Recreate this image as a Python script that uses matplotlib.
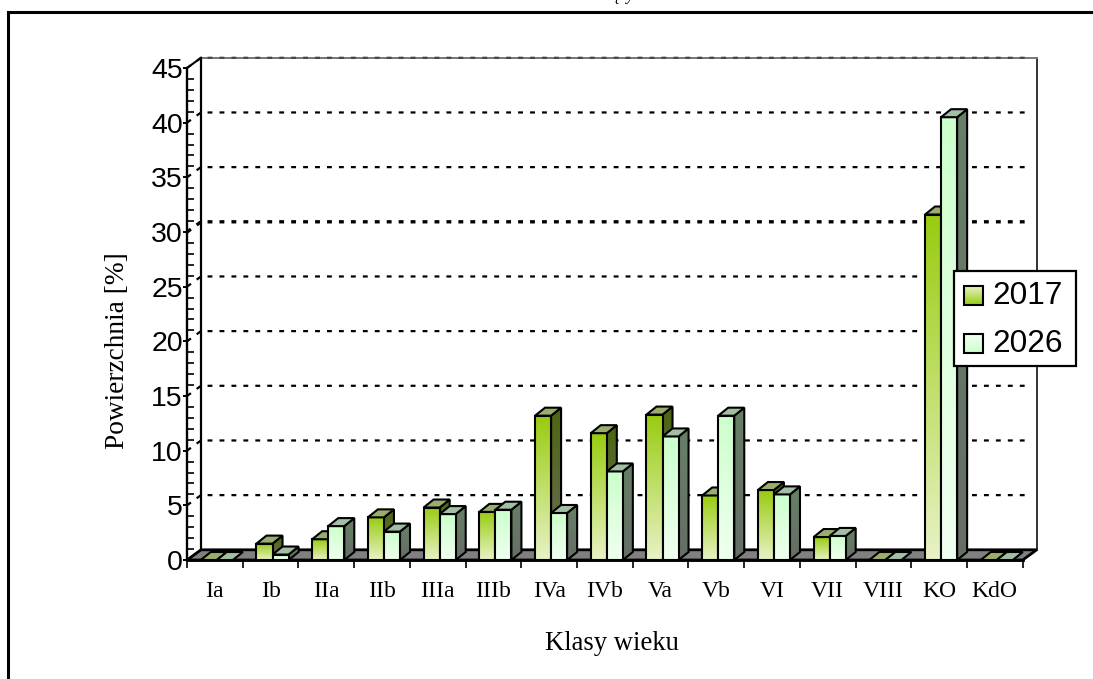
import numpy as np
import matplotlib
matplotlib.use('Agg')
import matplotlib.pyplot as plt
from matplotlib.colors import LinearSegmentedColormap
from matplotlib.patches import Polygon, Rectangle

W, H = 1093, 679

classes = ['Ia', 'Ib', 'IIa', 'IIb', 'IIIa', 'IIIb', 'IVa', 'IVb', 'Va', 'Vb', 'VI', 'VII', 'VIII', 'KO', 'KdO']
y2017 = [0, 1.5, 1.9, 3.9, 4.8, 4.4, 13.2, 11.6, 13.3, 5.9, 6.4, 2.1, 0, 31.6, 0]
y2026 = [0, 0.5, 3.1, 2.6, 4.2, 4.6, 4.3, 8.1, 11.3, 13.2, 6.0, 2.2, 0, 40.5, 0]
y_ticks = [0, 5, 10, 15, 20, 25, 30, 35, 40, 45]

# depth of the back wall and of the bars, in axis units
WALL_DX = 14 / 55.7
WALL_DY = 10.2 / 10.93
BAR_DX = 10 / 55.7
BAR_DY = 8 / 10.93
BAR_W = 0.288
BAR_OFF = 0.247

fig = plt.figure(figsize=(W / 100, H / 100), dpi=100)
bg = fig.add_axes([0, 0, 1, 1])
bg.set_xlim(0, W)
bg.set_ylim(H, 0)
bg.axis('off')
# frame is open on the right and at the bottom
bg.plot([8, 8, W], [H, 11.5, 11.5], color='black', lw=2.2, solid_joinstyle='miter')
# only the lowest pixels of this caption are on the sheet
bg.text(372, 0.5, 'Rozkład klas wieku w okresie obowiązywania lat 2017-2026', family='Liberation Serif',
        style='italic', fontsize=12, ha='left', va='baseline', color='black')

ax = fig.add_axes([187 / W, 1 - 560 / H, (1022.7 - 187) / W, (560 - 68) / H])
ax.set_xlim(0, len(classes))
ax.set_ylim(0, 45)
ax.patch.set_visible(False)
for s in ax.spines.values():
    s.set_visible(False)

n = len(classes)

# walls
ax.plot([WALL_DX, WALL_DX], [WALL_DY, 45 + WALL_DY], color='black', lw=1.6, clip_on=False, zorder=1)
ax.plot([n + WALL_DX, n + WALL_DX], [WALL_DY, 45 + WALL_DY], color='#333333', lw=1.4, clip_on=False, zorder=1)
ax.plot([WALL_DX, n + WALL_DX], [45 + WALL_DY, 45 + WALL_DY], color='#777777', lw=1.4, clip_on=False, zorder=1)
ax.add_patch(Polygon([(0, 0), (n, 0), (n + WALL_DX, WALL_DY), (WALL_DX, WALL_DY)], closed=True,
                     fc='#808080', ec='black', lw=2, clip_on=False, zorder=2))

# grid runs along the side wall too, the dashes leave one dot there
for v in y_ticks[1:]:
    lw = 2.4 if v == 30 else 1.6
    dash = 3.5 / lw
    gap = 5.1 / lw
    col = '#444444' if v == 45 else 'black'
    ax.plot([0, WALL_DX, n + WALL_DX - 0.12], [v, v + WALL_DY, v + WALL_DY], color=col, lw=lw,
            dashes=(dash, gap), clip_on=False, zorder=1.5)
ax.plot([0, WALL_DX], [45, 45 + WALL_DY], color='black', lw=1.5, clip_on=False, zorder=1.5)

def grad(top, bottom):
    return LinearSegmentedColormap.from_list('g', [bottom, top])

front_2017 = grad('#99cc11', '#e8f2c4')
side_2017 = grad('#4d6611', '#6b6e5a')
front_2026 = grad('#ccffcc', '#f0fff0')
side_2026 = grad('#668066', '#666e66')
ramp = np.linspace(1, 0, 64).reshape(-1, 1)

def bar3d(x0, val, front_cm, side_cm, top_col, z):
    x1 = x0 + BAR_W
    if val > 0:
        im = ax.imshow(ramp, cmap=side_cm, extent=(x1, x1 + BAR_DX, 0, val + BAR_DY), aspect='auto', zorder=z)
        side = Polygon([(x1, 0), (x1 + BAR_DX, BAR_DY), (x1 + BAR_DX, val + BAR_DY), (x1, val)], closed=True,
                       fc='none', ec='black', lw=1.5, zorder=z + 0.1, clip_on=False)
        ax.add_patch(side)
        im.set_clip_path(side)
        ax.imshow(ramp, cmap=front_cm, extent=(x0, x1, 0, val), aspect='auto', zorder=z + 0.2)
        ax.add_patch(Rectangle((x0, 0), BAR_W, val, fc='none', ec='black', lw=1.5, zorder=z + 0.3, clip_on=False))
    ax.add_patch(Polygon([(x0, val), (x1, val), (x1 + BAR_DX, val + BAR_DY), (x0 + BAR_DX, val + BAR_DY)],
                         closed=True, fc=top_col, ec='black', lw=1.5, zorder=z + 0.4, clip_on=False))

# back to front and left to right, so later bars cover the earlier ones
for i in range(n):
    bar3d(i + BAR_OFF, y2017[i], front_2017, side_2017, '#9aad6c', 3 + i)
    bar3d(i + BAR_OFF + BAR_W, y2026[i], front_2026, side_2026, '#a3bfa3', 3.5 + i)

ax.set_xlim(0, n)
ax.set_ylim(0, 45)

# axes
ax.plot([0, 0], [0, 45], color='black', lw=1.7, clip_on=False, zorder=30)
ax.plot([0, n], [0, 0], color='black', lw=2, clip_on=False, zorder=30)
ax.set_xticks(np.arange(n + 1))
ax.set_xticklabels([])
ax.set_xticks(np.arange(n) + 0.5, minor=True)
ax.set_xticklabels(classes, minor=True, family='Liberation Serif', fontsize=17)
ax.tick_params(axis='x', which='major', length=5.5, width=1.2, direction='out')
ax.tick_params(axis='x', which='minor', length=0, pad=15)
ax.set_yticks(y_ticks)
ax.set_yticklabels([str(v) for v in y_ticks], family='Liberation Sans', fontsize=20.5)
ax.set_yticks(np.arange(0, 46, 1), minor=True)
ax.tick_params(axis='y', which='major', length=3, width=1.4, direction='out', pad=0)
ax.tick_params(axis='y', which='minor', length=5, width=1.2, direction='in')

bg.text(118, 351, 'Powierzchnia [%]', rotation=90, family='Liberation Serif', fontsize=19.7, ha='center', va='center')
bg.text(612, 643, 'Klasy wieku', family='Liberation Serif', fontsize=19.2, ha='center', va='center')

# legend box sits above the KO bars
leg = fig.add_axes([0, 0, 1, 1], zorder=40)
leg.patch.set_visible(False)
leg.set_xlim(0, W)
leg.set_ylim(H, 0)
leg.axis('off')
leg.add_patch(Rectangle((954, 271), 122, 95, fc='white', ec='black', lw=1.6, zorder=1))
for label, cm, yc in [('2017', front_2017, 295.5), ('2026', front_2026, 343.5)]:
    leg.imshow(np.linspace(0, 1, 64).reshape(-1, 1), cmap=cm, extent=(964, 983, yc + 9.5, yc - 9.5), aspect='auto', zorder=2)
    leg.add_patch(Rectangle((964, yc - 9.5), 19, 19, fc='none', ec='black', lw=1.5, zorder=3))
    leg.text(992, yc + 0.5, label, family='Liberation Sans', fontsize=22.7, ha='left', va='center', zorder=3)
leg.set_xlim(0, W)
leg.set_ylim(H, 0)

fig.savefig('out.png', dpi=100)
